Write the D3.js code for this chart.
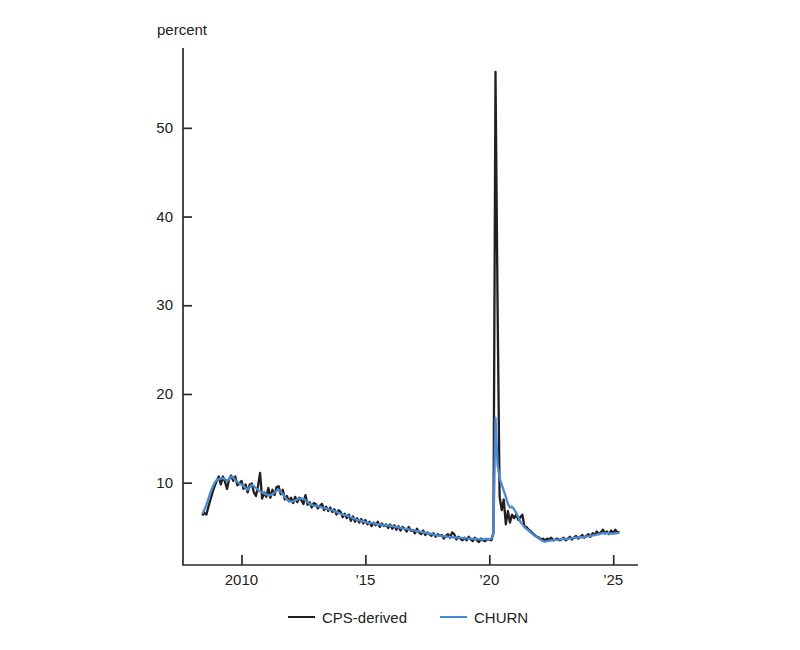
<!DOCTYPE html>
<html>
<head>
<meta charset="utf-8">
<script src="https://cdn.jsdelivr.net/npm/d3@7"></script>
<style>
  body { margin: 0; background: #fff; }
  svg text { font-family: "Liberation Sans", Arial, sans-serif; fill: #222; }
</style>
</head>
<body>
<svg id="chart" width="800" height="650"></svg>
<script>
// monthly, June 2008 .. April 2025
const startYear = 2008;
const startMonth = 6;

const cpsDerived = [
  6.3, 6.6, 6.4, 7.3, 8.1, 8.9, 9.6,
  10.2, 10.7, 9.8, 10.7, 10.1, 9.3, 10.4, 10.8, 10.2, 10.7, 9.7, 9.9,
  10.2, 9.3, 9.8, 8.9, 9.8, 9.9, 8.9, 8.5, 9.6, 11.1, 8.2, 8.9,
  8.4, 9.4, 8.3, 9.2, 8.6, 9.5, 9.6, 8.7, 9.2, 8.1, 8.5, 7.9,
  8.3, 7.7, 8.4, 7.8, 8.3, 8.0, 7.6, 8.6, 7.5, 7.8, 7.2, 7.7,
  7.6, 7.1, 7.4, 7.6, 6.9, 7.3, 6.8, 7.2, 6.7, 7.0, 6.4, 6.9,
  6.7, 6.1, 6.5, 6.0, 6.4, 5.7, 6.2, 5.6, 6.0, 5.5, 5.9, 5.4,
  5.8, 5.3, 5.6, 5.1, 5.5, 5.2, 5.6, 5.0, 5.4, 5.1, 5.3, 4.9,
  5.3, 4.8, 5.2, 4.7, 5.1, 4.6, 5.0, 4.8, 4.5, 5.0, 4.6, 4.6,
  4.3, 4.8, 4.4, 4.2, 4.6, 4.1, 4.4, 4.2, 4.0, 4.3, 3.9, 4.2,
  4.0, 4.1, 3.7, 4.0, 4.2, 3.8, 4.4, 4.2, 3.6, 3.9, 3.7, 3.5,
  3.8, 3.5, 3.9, 3.6, 3.4, 3.8, 3.5, 3.3, 3.7, 3.5, 3.4, 3.6,
  3.6, 3.5, 4.3, 56.3, 30.0, 8.4, 6.9, 8.1, 5.3, 6.8, 5.5, 6.4,
  6.0, 6.4, 5.8, 6.1, 6.4, 5.1, 5.0, 4.7, 4.5, 4.3, 4.1, 3.9,
  3.8, 3.6, 3.7, 3.5, 3.7, 3.6, 3.8, 3.5, 3.6, 3.7, 3.5, 3.6,
  3.8, 3.5, 3.7, 3.9, 3.6, 3.8, 4.0, 3.7, 3.9, 4.1, 3.8, 4.0,
  4.2, 3.9, 4.3, 4.1, 4.5, 4.2, 4.4, 4.7, 4.3, 4.5, 4.2, 4.6,
  4.3, 4.7, 4.4, 4.45
];

const churn = [
  6.5, 6.9, 7.5, 8.2, 8.9, 9.5, 10.0,
  10.3, 10.4, 10.5, 10.5, 10.4, 10.2, 10.4, 10.7, 10.6, 10.3, 10.1, 9.9,
  9.8, 9.6, 9.4, 9.2, 9.5, 9.75, 9.6, 9.4, 9.2, 9.0, 8.9, 8.8,
  8.7, 8.6, 8.6, 8.7, 8.9, 9.1, 9.2, 9.0, 8.7, 8.4, 8.1, 7.95,
  7.9, 7.9, 8.0, 8.1, 8.2, 8.2, 8.2, 8.0, 7.8, 7.6, 7.5, 7.4,
  7.4, 7.35, 7.3, 7.2, 7.15, 7.1, 7.0, 6.95, 6.9, 6.8, 6.7, 6.6,
  6.5, 6.4, 6.35, 6.3, 6.2, 6.1, 6.0, 5.9, 5.8, 5.75, 5.7, 5.6,
  5.55, 5.5, 5.45, 5.45, 5.4, 5.35, 5.3, 5.3, 5.25, 5.2, 5.2, 5.15,
  5.15, 5.1, 5.05, 5.0, 4.95, 4.9, 4.85, 4.8, 4.8, 4.75, 4.7, 4.65,
  4.6, 4.55, 4.5, 4.45, 4.4, 4.35, 4.3, 4.25, 4.2, 4.15, 4.1, 4.05,
  4.0, 4.0, 3.95, 3.95, 3.9, 3.9, 3.85, 3.85, 3.8, 3.8, 3.8, 3.75,
  3.75, 3.75, 3.7, 3.7, 3.7, 3.65, 3.65, 3.65, 3.6, 3.6, 3.65, 3.65,
  3.65, 3.7, 4.3, 17.3, 12.0, 10.5, 9.8, 9.1, 8.4, 7.6, 7.2, 7.3,
  7.0, 6.6, 6.1, 5.6, 5.3, 5.0, 4.8, 4.6, 4.4, 4.2, 4.0, 3.85,
  3.7, 3.55, 3.4, 3.35, 3.4, 3.45, 3.5, 3.5, 3.55, 3.55, 3.6, 3.65,
  3.65, 3.65, 3.7, 3.7, 3.75, 3.8, 3.8, 3.8, 3.85, 3.85, 3.9, 3.95,
  3.95, 4.0, 4.05, 4.1, 4.15, 4.2, 4.25, 4.3, 4.3, 4.3, 4.3, 4.25,
  4.25, 4.3, 4.3, 4.35
];

const yTicks = [10, 20, 30, 40, 50];
const xTicks = [2010, 2015, 2020, 2025];
const xTickLabels = ['2010', '\u201915', '\u201920', '\u201925'];

const series = [
  { name: 'CPS-derived', values: cpsDerived, color: '#231f20' },
  { name: 'CHURN', values: churn, color: '#4a8ad0' }
];

const svg = d3.select('#chart');
const axisColor = '#2a2a2a';

// decimal-year x scale, value y scale
const x = d3.scaleLinear().domain([2007.6, 2026.0]).range([182, 638]);
const y = d3.scaleLinear().domain([0.72, 59]).range([565, 48]);

const toYear = i => startYear + (startMonth - 1 + i) / 12;

// y axis, ticks point inward
const yAxis = svg.append('g')
  .attr('transform', `translate(${x.range()[0] + 1},0)`)
  .call(d3.axisRight(y).tickValues(yTicks).tickSize(9).tickFormat(''));
yAxis.select('.domain').attr('d', `M0,${y.range()[1]}V${y.range()[0]}`);
yAxis.selectAll('line, path').attr('stroke', axisColor).attr('stroke-width', 1.7);

svg.append('g')
  .selectAll('text')
  .data(yTicks)
  .enter().append('text')
  .attr('x', 173)
  .attr('y', d => y(d) + 5)
  .attr('text-anchor', 'end')
  .attr('font-size', 15)
  .text(d => d);

// x axis, ticks point inward
const xAxis = svg.append('g')
  .attr('transform', `translate(0,${y.range()[0]})`)
  .call(d3.axisTop(x).tickValues(xTicks).tickSize(10).tickFormat(''));
xAxis.select('.domain').attr('d', `M${x.range()[0]},0H${x.range()[1]}`);
xAxis.selectAll('line, path').attr('stroke', axisColor).attr('stroke-width', 1.7);

svg.append('g')
  .selectAll('text')
  .data(xTicks)
  .enter().append('text')
  .attr('x', d => x(d))
  .attr('y', 585)
  .attr('text-anchor', 'middle')
  .attr('font-size', 15)
  .text((d, i) => xTickLabels[i]);

svg.append('text')
  .attr('x', 157)
  .attr('y', 35)
  .attr('font-size', 15)
  .text('percent');

// lines
const line = d3.line()
  .x((d, i) => x(toYear(i)))
  .y(d => y(d));

svg.append('g')
  .selectAll('path')
  .data(series)
  .enter().append('path')
  .attr('fill', 'none')
  .attr('stroke', d => d.color)
  .attr('stroke-width', 2.3)
  .attr('stroke-linejoin', 'round')
  .attr('d', d => line(d.values));

// legend
const legendX = [288, 440];
const legend = svg.append('g')
  .selectAll('g')
  .data(series)
  .enter().append('g')
  .attr('transform', (d, i) => `translate(${legendX[i]},617)`);

legend.append('line')
  .attr('x1', 0).attr('x2', 27)
  .attr('stroke', d => d.color)
  .attr('stroke-width', 2);

legend.append('text')
  .attr('x', 34)
  .attr('y', 6)
  .attr('font-size', 15)
  .text(d => d.name);
</script>
</body>
</html>
